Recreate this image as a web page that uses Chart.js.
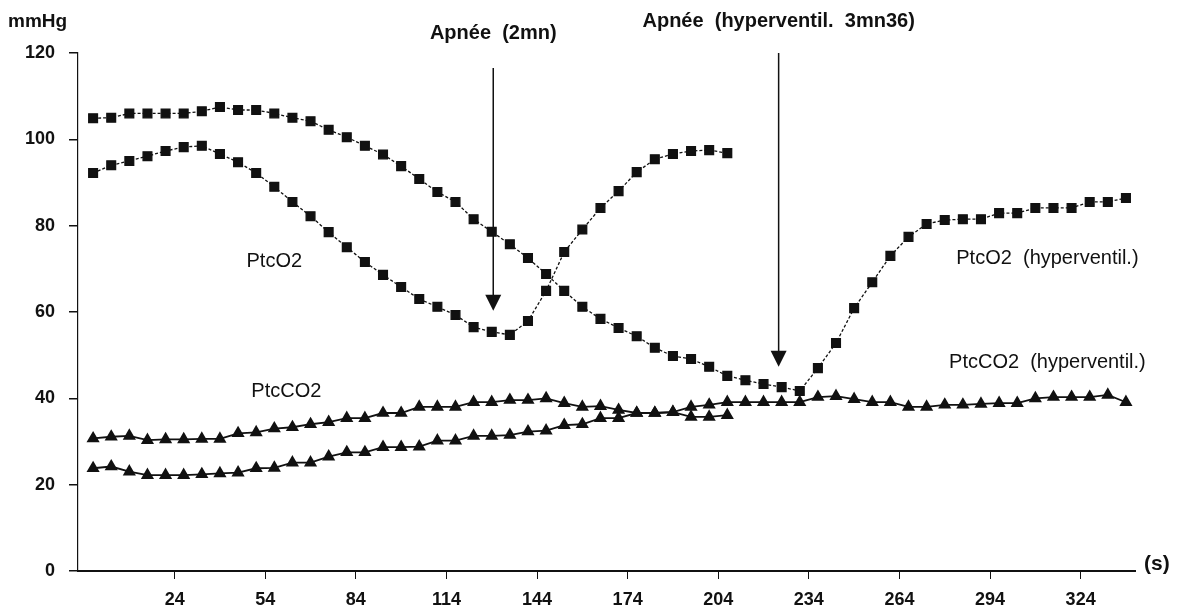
<!DOCTYPE html>
<html>
<head>
<meta charset="utf-8">
<script src="https://cdn.jsdelivr.net/npm/chart.js@4.4.1/dist/chart.umd.min.js"></script>
<style>
  body { margin: 0; background: #fff; }
  #wrap { width: 1188px; height: 613px; position: relative; }
</style>
</head>
<body>
<div id="wrap"><canvas id="my-chart"></canvas></div>
<script>
// sample times (s), one reading every 6 s
const timesSec = [-3, 3, 9, 15, 21, 27, 33, 39, 45, 51, 57, 63, 69, 75, 81, 87, 93, 99, 105, 111,
  117, 123, 129, 135, 141, 147, 153, 159, 165, 171, 177, 183, 189, 195, 201, 207, 213, 219, 225, 231,
  237, 243, 249, 255, 261, 267, 273, 279, 285, 291, 297, 303, 309, 315, 321, 327, 333, 339];

const xTickValues = [24, 54, 84, 114, 144, 174, 204, 234, 264, 294, 324];
const yTickValues = [0, 20, 40, 60, 80, 100, 120];

// apnée 2 mn
const ptcO2 = [92.2, 94, 95, 96.1, 97.3, 98.2, 98.5, 96.6, 94.7, 92.2,
  89, 85.5, 82.2, 78.5, 75, 71.6, 68.6, 65.8, 63, 61.2,
  59.3, 56.5, 55.4, 54.7, 57.9, 64.9, 73.9, 79.1, 84.1, 88,
  92.4, 95.4, 96.6, 97.3, 97.5, 96.8];
const ptcCO2 = [30.7, 31.1, 31.3, 30.3, 30.5, 30.5, 30.6, 30.6, 31.9, 32.1,
  33, 33.3, 34, 34.5, 35.4, 35.4, 36.6, 36.6, 38, 38,
  38, 39.1, 39.1, 39.6, 39.6, 40, 38.9, 38, 38.2, 37.3,
  36.6, 36.6, 36.8, 35.7, 35.7, 36.1];

// apnée after hyperventilation, 3 mn 36
const ptcO2Hyper = [104.9, 105, 106, 106, 106, 106, 106.5, 107.5, 106.8, 106.8,
  106, 105, 104.2, 102.2, 100.5, 98.5, 96.5, 93.8, 90.8, 87.8,
  85.5, 81.5, 78.6, 75.7, 72.5, 68.8, 64.9, 61.2, 58.4, 56.3,
  54.4, 51.7, 49.8, 49.1, 47.3, 45.2, 44.2, 43.3, 42.6, 41.7,
  47, 52.8, 60.9, 66.9, 73, 77.4, 80.4, 81.3, 81.5, 81.5,
  82.9, 82.9, 84.1, 84.1, 84.1, 85.5, 85.5, 86.4];
const ptcCO2Hyper = [23.8, 24.2, 23, 22.2, 22.2, 22.2, 22.4, 22.6, 22.8, 23.8,
  23.9, 25.1, 25.1, 26.5, 27.5, 27.5, 28.7, 28.7, 28.8, 30.2,
  30.2, 31.3, 31.3, 31.5, 32.3, 32.5, 33.8, 34, 35.4, 35.4,
  36.6, 36.6, 36.8, 38, 38.5, 39.1, 39.1, 39.1, 39.1, 39.1,
  40.3, 40.5, 39.8, 39.1, 39.1, 38, 38, 38.5, 38.5, 38.7,
  38.9, 38.9, 40, 40.3, 40.3, 40.3, 40.8, 39.1];

// text labels placed in data units (time, mmHg)
const curveLabels = [
  { text: "PtcO2", t: 57, v: 71.6 },
  { text: "PtcCO2", t: 61, v: 41.7 },
  { text: "PtcO2  (hyperventil.)", t: 313, v: 72.5 },
  { text: "PtcCO2  (hyperventil.)", t: 313, v: 48.2 }
];
const arrowLabels = [
  { text: "Apnée  (2mn)", t: 129.5, v: 124.6, top: 116.5, tip: 60.3 },
  { text: "Apnée  (hyperventil.  3mn36)", t: 224, v: 127.4, top: 120, tip: 47.3 }
];

const ink = "#111";

function toPoints(values) {
  return values.map((v, i) => ({ x: timesSec[i], y: v }));
}

const annotations = {
  id: "annotations",
  afterDraw(chart) {
    const c = chart.ctx;
    const xs = chart.scales.x;
    const ys = chart.scales.y;
    const area = chart.chartArea;
    c.save();
    c.fillStyle = ink;
    c.strokeStyle = ink;
    c.textAlign = "center";
    c.textBaseline = "middle";

    c.font = "20px 'Liberation Sans', Arial, sans-serif";
    curveLabels.forEach(l => {
      c.fillText(l.text, xs.getPixelForValue(l.t), ys.getPixelForValue(l.v));
    });

    c.font = "bold 20px 'Liberation Sans', Arial, sans-serif";
    arrowLabels.forEach(a => {
      const x = xs.getPixelForValue(a.t);
      c.fillText(a.text, x, ys.getPixelForValue(a.v));
      const y1 = ys.getPixelForValue(a.top);
      const y2 = ys.getPixelForValue(a.tip);
      c.lineWidth = 1.5;
      c.beginPath();
      c.moveTo(x, y1);
      c.lineTo(x, y2 - 14);
      c.stroke();
      c.beginPath();
      c.moveTo(x - 8, y2 - 16);
      c.lineTo(x + 8, y2 - 16);
      c.lineTo(x, y2);
      c.closePath();
      c.fill();
    });

    // axis units
    c.font = "bold 19px 'Liberation Sans', Arial, sans-serif";
    c.textAlign = "left";
    c.fillText("mmHg", 8, area.top - 31);
    c.font = "bold 21px 'Liberation Sans', Arial, sans-serif";
    c.fillText("(s)", area.right + 9, area.bottom - 7);
    c.restore();
  }
};

const ctx = document.getElementById("my-chart").getContext("2d");
const chart = new Chart(ctx, {
  type: "scatter",
  data: {
    datasets: [
      {
        label: "PtcO2 (hyperventil.)",
        data: toPoints(ptcO2Hyper),
        showLine: true,
        borderColor: ink,
        backgroundColor: ink,
        borderWidth: 1.3,
        borderDash: [3, 2],
        pointStyle: "rect",
        pointRadius: 6.2,
        clip: false
      },
      {
        label: "PtcO2",
        data: toPoints(ptcO2),
        showLine: true,
        borderColor: ink,
        backgroundColor: ink,
        borderWidth: 1.3,
        borderDash: [3, 2],
        pointStyle: "rect",
        pointRadius: 6.2,
        clip: false
      },
      {
        label: "PtcCO2 (hyperventil.)",
        data: toPoints(ptcCO2Hyper),
        showLine: true,
        borderColor: ink,
        backgroundColor: ink,
        borderWidth: 1.8,
        pointStyle: "triangle",
        pointRadius: 5.8,
        clip: false
      },
      {
        label: "PtcCO2",
        data: toPoints(ptcCO2),
        showLine: true,
        borderColor: ink,
        backgroundColor: ink,
        borderWidth: 1.8,
        pointStyle: "triangle",
        pointRadius: 5.8,
        clip: false
      }
    ]
  },
  options: {
    responsive: true,
    maintainAspectRatio: false,
    animation: false,
    layout: { padding: { top: 53, right: 53, bottom: 5, left: 0 } },
    plugins: {
      legend: { display: false },
      tooltip: { enabled: false }
    },
    scales: {
      x: {
        type: "linear",
        min: -8,
        max: 342,
        afterBuildTicks: scale => {
          scale.ticks = xTickValues.map(v => ({ value: v }));
        },
        afterFit: scale => {
          scale.height = 37;
        },
        border: { display: true, color: ink, width: 2 },
        grid: { drawOnChartArea: false, drawTicks: true, tickLength: 8, color: ink, lineWidth: 1 },
        ticks: {
          color: ink,
          padding: 10,
          maxRotation: 0,
          font: { family: "'Liberation Sans', Arial, sans-serif", size: 18, weight: "bold" }
        }
      },
      y: {
        min: 0,
        max: 120,
        afterBuildTicks: scale => {
          scale.ticks = yTickValues.map(v => ({ value: v }));
        },
        afterFit: scale => {
          scale.width = 78;
        },
        border: { display: true, color: ink, width: 1.2, dash: [5, 3, 1, 3] },
        grid: { drawOnChartArea: false, drawTicks: true, tickLength: 9, color: ink, lineWidth: 1.5 },
        ticks: {
          color: ink,
          padding: 14,
          font: { family: "'Liberation Sans', Arial, sans-serif", size: 18, weight: "bold" }
        }
      }
    }
  },
  plugins: [annotations]
});
</script>
</body>
</html>
